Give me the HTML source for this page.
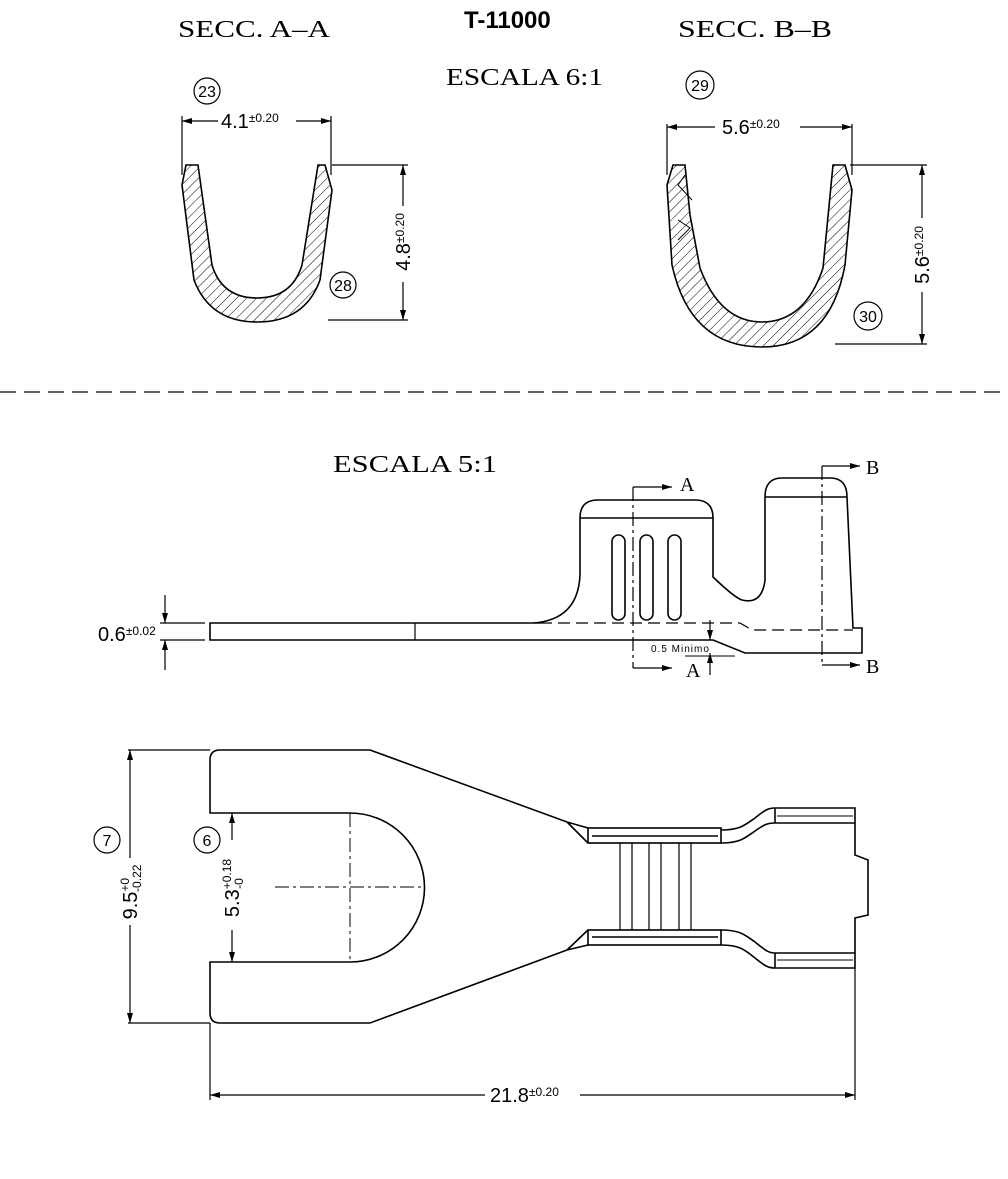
<!DOCTYPE html>
<html><head><meta charset="utf-8"><style>
html,body{margin:0;padding:0;background:#fff;}
svg{display:block;}
.s{font-family:"Liberation Serif",serif;}
.a{font-family:"Liberation Sans",sans-serif;}
</style></head><body>
<svg width="1008" height="1179" viewBox="0 0 1008 1179" xmlns="http://www.w3.org/2000/svg">
<defs>
<pattern id="h" width="7" height="7" patternUnits="userSpaceOnUse" patternTransform="rotate(45)">
<line x1="0" y1="0" x2="0" y2="7" stroke="#000" stroke-width="1"/>
</pattern>
<marker id="ar" viewBox="0 0 10 6" refX="10" refY="3" markerWidth="10" markerHeight="6" markerUnits="userSpaceOnUse" orient="auto-start-reverse">
<path d="M0,0 L10,3 L0,6 Z" fill="#000"/>
</marker>
</defs>
<g fill="#000">
<text x="178" y="37" class="s" font-size="24" textLength="152" lengthAdjust="spacingAndGlyphs">SECC. A–A</text>
<text x="464" y="28" class="a" font-size="24" font-weight="bold">T-11000</text>
<text x="446" y="85" class="s" font-size="24" textLength="157" lengthAdjust="spacingAndGlyphs">ESCALA 6:1</text>
<text x="678" y="37" class="s" font-size="24" textLength="154" lengthAdjust="spacingAndGlyphs">SECC. B–B</text>
<text x="333" y="472" class="s" font-size="24" textLength="164" lengthAdjust="spacingAndGlyphs">ESCALA 5:1</text>
</g>
<g fill="none" stroke="#000" stroke-width="1.2">
<path d="M186,165 L198,165 L212,265 Q222,298 257,298 Q292,298 302,265 L318,165 L325,165 L332,190 L320,280 Q305,322 257,322 Q210,322 194,280 L182,185 Z" fill="url(#h)" stroke-width="1.6"/>
<line x1="182" y1="116" x2="182" y2="175"/>
<line x1="331" y1="116" x2="331" y2="175"/>
<line x1="182" y1="121" x2="218" y2="121" marker-start="url(#ar)"/>
<line x1="296" y1="121" x2="331" y2="121" marker-end="url(#ar)"/>
<line x1="332" y1="165" x2="408" y2="165"/>
<line x1="328" y1="320" x2="408" y2="320"/>
<line x1="403" y1="165" x2="403" y2="206" marker-start="url(#ar)"/>
<line x1="403" y1="282" x2="403" y2="320" marker-end="url(#ar)"/>
<circle cx="207" cy="91" r="13"/>
<circle cx="343" cy="285" r="13"/>
<path d="M673,165 L685,165 L690,215 L700,268 Q720,322 762,322 Q805,322 823,268 L833,165 L845,165 L852,190 L845,265 Q830,347 762,347 Q690,347 672,265 L667,185 Z" fill="url(#h)" stroke-width="1.6"/>
<path d="M685,175 L678,185 L692,200 M678,220 L690,228 L678,240" stroke-width="1"/>
<line x1="667" y1="124" x2="667" y2="175"/>
<line x1="852" y1="124" x2="852" y2="175"/>
<line x1="667" y1="127" x2="715" y2="127" marker-start="url(#ar)"/>
<line x1="800" y1="127" x2="852" y2="127" marker-end="url(#ar)"/>
<line x1="850" y1="165" x2="927" y2="165"/>
<line x1="835" y1="344" x2="927" y2="344"/>
<line x1="922" y1="165" x2="922" y2="218" marker-start="url(#ar)"/>
<line x1="922" y1="292" x2="922" y2="344" marker-end="url(#ar)"/>
<circle cx="700" cy="85" r="14"/>
<circle cx="868" cy="316" r="14"/>
<line x1="0" y1="392" x2="1008" y2="392" stroke-dasharray="16 8"/>
<g stroke-width="1.6">
<path d="M540,623 L210,623 L210,640 L713,640 L745,653 L862,653 L862,628 L853,628 L847,497 Q847,478 830,478 L782,478 Q765,478 765,497 L765,580 Q762,605 742,600 Q735,598 713,577 L713,518 Q713,500 695,500 L598,500 Q580,500 580,518 L580,575 Q578,620 533,623"/>
<line x1="580" y1="518" x2="713" y2="518"/>
<line x1="765" y1="497" x2="847" y2="497"/>
<rect x="612" y="535" width="13" height="85" rx="6.5"/>
<rect x="640" y="535" width="13" height="85" rx="6.5"/>
<rect x="668" y="535" width="13" height="85" rx="6.5"/>
</g>
<line x1="415" y1="623" x2="415" y2="640"/>
<path d="M540,623 L740,623 L752,630 L853,630" stroke-dasharray="12 6"/>
<path d="M633,487 L633,668" stroke-dasharray="14 4 3 4"/>
<line x1="633" y1="487" x2="672" y2="487" marker-end="url(#ar)"/>
<line x1="633" y1="668" x2="672" y2="668" marker-end="url(#ar)"/>
<path d="M822,466 L822,665" stroke-dasharray="14 4 3 4"/>
<line x1="822" y1="466" x2="860" y2="466" marker-end="url(#ar)"/>
<line x1="822" y1="665" x2="860" y2="665" marker-end="url(#ar)"/>
<line x1="710" y1="620" x2="710" y2="640" marker-end="url(#ar)"/>
<line x1="710" y1="675" x2="710" y2="653" marker-end="url(#ar)"/>
<line x1="685" y1="656" x2="735" y2="656" stroke-width="1"/>
<line x1="160" y1="623" x2="205" y2="623"/>
<line x1="160" y1="640" x2="205" y2="640"/>
<line x1="165" y1="595" x2="165" y2="623" marker-end="url(#ar)"/>
<line x1="165" y1="670" x2="165" y2="640" marker-end="url(#ar)"/>
<g stroke-width="1.6">
<path d="M588,828 L567,822 L370,750 L220,750 Q210,750 210,760 L210,813 L350,813 A74.5,74.5 0 0 1 350,962 L210,962 L210,1013 Q210,1023 220,1023 L370,1023 L567,950 L588,945"/>
<path d="M567,822 L588,843 M567,950 L588,930"/>
<rect x="588" y="828" width="133" height="15"/>
<line x1="592" y1="836" x2="718" y2="836"/>
<rect x="588" y="930" width="133" height="15"/>
<line x1="592" y1="937" x2="718" y2="937"/>
<path d="M721,830 C740,830 745,825 755,818 C765,810 768,808 775,808 L855,808 L855,855 L868,860 L868,915 L855,918 L855,968 L775,968 C768,968 765,966 755,958 C745,950 740,945 721,945"/>
<path d="M721,843 C740,843 745,838 755,831 C765,824 768,823 775,823 L855,823 M721,930 C740,930 745,935 755,942 C765,950 768,953 775,953 L855,953"/>
<line x1="775" y1="808" x2="775" y2="823"/>
<line x1="775" y1="953" x2="775" y2="968"/>
<line x1="777" y1="816" x2="853" y2="816" stroke-width="1"/>
<line x1="777" y1="960" x2="853" y2="960" stroke-width="1"/>
</g>
<g stroke-width="1.2">
<line x1="620" y1="843" x2="620" y2="930"/><line x1="632" y1="843" x2="632" y2="930"/>
<line x1="649" y1="843" x2="649" y2="930"/><line x1="661" y1="843" x2="661" y2="930"/>
<line x1="679" y1="843" x2="679" y2="930"/><line x1="691" y1="843" x2="691" y2="930"/>
</g>
<path d="M275,887 L424,887 M350,813 L350,962" stroke-dasharray="14 4 3 4" stroke-width="1"/>
<line x1="128" y1="750" x2="210" y2="750"/>
<line x1="128" y1="1023" x2="210" y2="1023"/>
<line x1="130" y1="750" x2="130" y2="858" marker-start="url(#ar)"/>
<line x1="130" y1="925" x2="130" y2="1023" marker-end="url(#ar)"/>
<line x1="232" y1="813" x2="232" y2="840" marker-start="url(#ar)"/>
<line x1="232" y1="930" x2="232" y2="962" marker-end="url(#ar)"/>
<circle cx="107" cy="840" r="13"/>
<circle cx="207" cy="840" r="13"/>
<line x1="210" y1="1023" x2="210" y2="1100"/>
<line x1="855" y1="968" x2="855" y2="1100"/>
<line x1="210" y1="1095" x2="485" y2="1095" marker-start="url(#ar)"/>
<line x1="580" y1="1095" x2="855" y2="1095" marker-end="url(#ar)"/>
</g>
<g class="a" fill="#000">
<text x="221" y="128" font-size="20">4.1<tspan font-size="12" dy="-6">±0.20</tspan></text>
<text transform="translate(410,242) rotate(-90)" text-anchor="middle" font-size="20">4.8<tspan font-size="12" dy="-6">±0.20</tspan></text>
<text x="207" y="97" text-anchor="middle" font-size="16">23</text>
<text x="343" y="291" text-anchor="middle" font-size="16">28</text>
<text x="722" y="134" font-size="20">5.6<tspan font-size="12" dy="-6">±0.20</tspan></text>
<text transform="translate(929,255) rotate(-90)" text-anchor="middle" font-size="20">5.6<tspan font-size="12" dy="-6">±0.20</tspan></text>
<text x="700" y="91" text-anchor="middle" font-size="16">29</text>
<text x="868" y="322" text-anchor="middle" font-size="16">30</text>
<text x="98" y="641" font-size="20">0.6<tspan font-size="12" dy="-6">±0.02</tspan></text>
<text x="651" y="652" font-size="10" letter-spacing="1">0.5  Minimo</text>
<text transform="translate(137,892) rotate(-90)" text-anchor="middle" font-size="20">9.5<tspan font-size="12" dy="-8">+0</tspan><tspan font-size="12" dx="-14" dy="12">-0.22</tspan></text>
<text transform="translate(239,888) rotate(-90)" text-anchor="middle" font-size="20">5.3<tspan font-size="12" dy="-8">+0.18</tspan><tspan font-size="12" dx="-30" dy="12">-0</tspan></text>
<text x="107" y="846" text-anchor="middle" font-size="16">7</text>
<text x="207" y="846" text-anchor="middle" font-size="16">6</text>
<text x="490" y="1102" font-size="20">21.8<tspan font-size="12" dy="-6">±0.20</tspan></text>
</g>
<g class="s" fill="#000" font-size="20">
<text x="680" y="491">A</text>
<text x="686" y="677">A</text>
<text x="866" y="474">B</text>
<text x="866" y="673">B</text>
</g>
</svg>
</body></html>
